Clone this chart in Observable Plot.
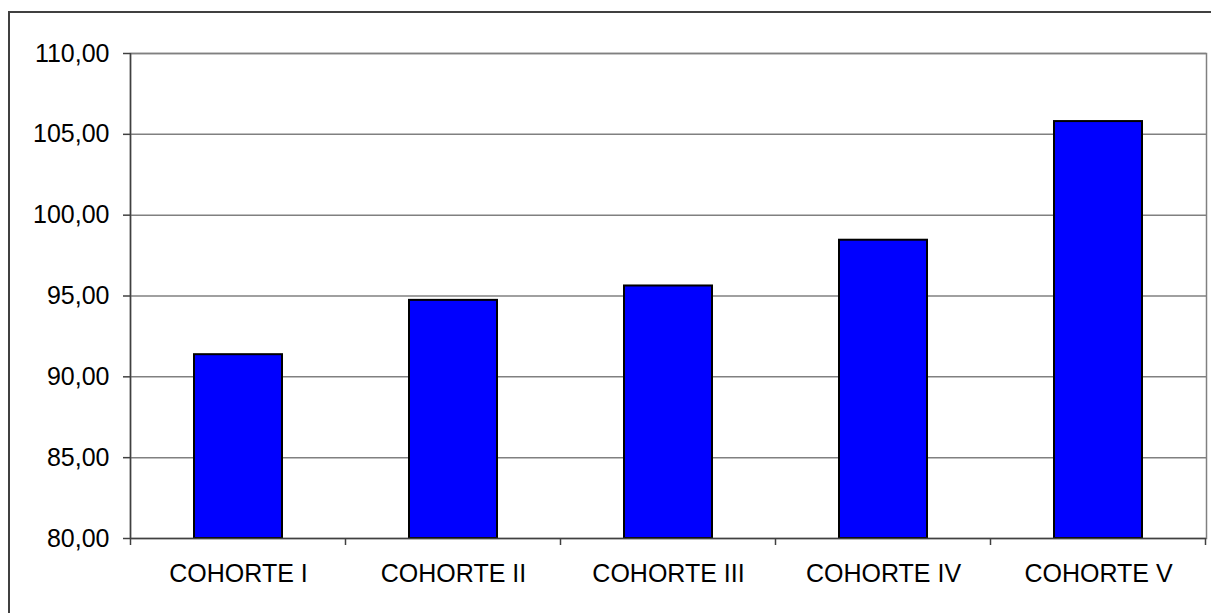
<!DOCTYPE html>
<html>
<head>
<meta charset="utf-8">
<script src="https://cdn.jsdelivr.net/npm/d3@7"></script>
<script src="https://cdn.jsdelivr.net/npm/@observablehq/plot@0.6"></script>
<style>
  html, body { margin: 0; padding: 0; background: #fff; overflow: hidden; }
  #wrap { position: relative; width: 1211px; height: 613px; overflow: hidden; }
  #outer { position: absolute; left: 8px; top: 11px; width: 1400px; height: 800px;
           border: 2px solid #404040; box-sizing: border-box; }
  #chart { position: absolute; left: 0; top: 0; }
</style>
</head>
<body>
<div id="wrap">
  <div id="outer"></div>
  <div id="chart"></div>
</div>
<script>
const categories = ["COHORTE I", "COHORTE II", "COHORTE III", "COHORTE IV", "COHORTE V"];
const values = [91.37, 94.73, 95.62, 98.45, 105.79];
const yTicks = [80, 85, 90, 95, 100, 105, 110];

const data = categories.map((c, i) => ({category: c, value: values[i]}));
const fmt = d => d.toFixed(2).replace(".", ",");

const chart = Plot.plot({
  width: 1211,
  height: 613,
  marginLeft: 130,
  marginRight: 5,
  marginTop: 53,
  marginBottom: 75,
  style: {background: "transparent", fontFamily: "'Liberation Sans', Arial, sans-serif", fontSize: "25px", color: "#000"},
  x: {domain: categories, paddingInner: 0.59, paddingOuter: 0.295},
  y: {domain: [80, 110]},
  marks: [
    Plot.ruleY(yTicks.filter(d => d > 80), {stroke: "#808080", strokeWidth: 1.5}),
    Plot.frame({stroke: "#808080", strokeWidth: 1.5}),
    Plot.barY(data, {x: "category", y1: 80, y2: "value", fill: "#0000FF", stroke: "#000", strokeWidth: 2}),
    Plot.ruleY([80], {stroke: "#404040", strokeWidth: 1.5}),
    Plot.axisY({ticks: yTicks, tickFormat: fmt, tickSize: 7, tickPadding: 14, stroke: "#404040", strokeWidth: 1.5, label: null, fill: "#000"}),
    Plot.axisX({tickSize: 0, tickPadding: 26, label: null, fill: "#000"})
  ]
});
document.getElementById("chart").appendChild(chart);

// left axis line and category boundary ticks, derived from the x / y scales
const xs = chart.scale("x");
const ys = chart.scale("y");
const svg = d3.select(chart);
const y0 = ys.apply(80);
const gap = (xs.step - xs.bandwidth) / 2;
const bounds = categories.map(c => xs.apply(c) - gap);
bounds.push(xs.apply(categories[categories.length - 1]) + xs.bandwidth + gap);
svg.append("g")
  .selectAll("line").data(bounds).join("line")
  .attr("x1", d => d).attr("x2", d => d)
  .attr("y1", y0).attr("y2", y0 + 7)
  .attr("stroke", "#404040").attr("stroke-width", 1.5);
svg.append("line")
  .attr("x1", bounds[0]).attr("x2", bounds[0])
  .attr("y1", ys.apply(110)).attr("y2", y0)
  .attr("stroke", "#404040").attr("stroke-width", 1.5);
</script>
</body>
</html>
